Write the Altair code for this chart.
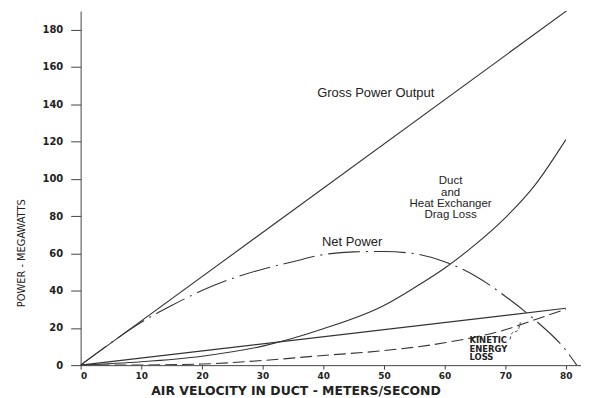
import altair as alt
import pandas as pd

# ---- data ----
gross_v = [0, 80.5]
gross_p = [0, 191]

drag_v = [0, 10, 20, 30, 40, 50, 55, 60, 65, 70, 75, 80]
drag_p = [0, 1.8, 4.8, 10.2, 19.5, 32, 41.5, 52, 64.5, 79, 97, 121]

net_v = [0, 5, 10, 15, 20, 25, 30, 35, 40, 45, 50, 55, 60, 65, 70, 75, 80, 81.8]
net_p = [0, 12, 23, 32, 40, 46.5, 51.5, 55.5, 59.3, 60.8, 61, 59.8, 55.5, 48, 37, 24, 8, 0]

ke_v = [0, 10, 20, 30, 40, 50, 60, 70, 75, 80]
ke_p = [0, 0.1, 0.6, 2.5, 5.2, 7.8, 12, 19, 24.5, 30]

straight_v = [0, 80]
straight_p = [0, 30.5]

leader_v = [70.8, 71.1, 72.1, 72.5]
leader_p = [13.8, 17.1, 18.7, 23]

x_ticks = [0, 10, 20, 30, 40, 50, 60, 70, 80]
y_ticks = [0, 20, 40, 60, 80, 100, 120, 140, 160, 180]

labels_main = ["Gross Power Output", "Net Power"]
labels_main_v = [39.0, 39.8]
labels_main_p = [145.8, 66.0]

duct_lines = ["Duct", "and", "Heat Exchanger", "Drag Loss"]
duct_v = [61, 61, 61, 61]
duct_p = [98.6, 92.5, 86.4, 80.3]

ke_lines = ["KINETIC", "ENERGY", "LOSS"]
ke_lab_v = [64.1, 64.1, 64.1]
ke_lab_p = [13.4, 8.8, 4.2]

# ---- chart ----
xs = alt.Scale(domain=[0, 82.5], nice=False, zero=False)
ys = alt.Scale(domain=[0, 190], nice=False)

LINE = "#333333"

x_axis = alt.Axis(
    values=x_ticks, grid=False, tickSize=4, labelPadding=2, labelOverlap=False,
    labelFont="DejaVu Sans", labelFontWeight="bold", labelFontSize=9,
    labelColor="#222", domainColor="#444", tickColor="#444",
    title="AIR  VELOCITY  IN  DUCT  -  METERS/SECOND",
    titleFont="DejaVu Sans", titleFontWeight="bold", titleFontSize=12.5,
    titleColor="#222", titleX=216, titleY=30, titleAlign="center",
    titleBaseline="alphabetic",
)
y_axis = alt.Axis(
    values=y_ticks, grid=False, tickSize=10, labelPadding=8, labelOverlap=False,
    labelFont="DejaVu Sans", labelFontWeight="bold", labelFontSize=10,
    labelColor="#222", domainColor="#444", tickColor="#444",
    title="POWER - MEGAWATTS",
    titleFont="DejaVu Sans Condensed", titleFontWeight="normal", titleFontSize=11,
    titleColor="#222", titleX=-59, titleY=243, titleAngle=270,
    titleAlign="center", titleBaseline="middle",
)


def series(v, p):
    return pd.DataFrame({"v": v, "p": p})


def enc(chart):
    return chart.encode(
        x=alt.X("v:Q", scale=xs, axis=x_axis),
        y=alt.Y("p:Q", scale=ys, axis=y_axis),
    )


def line_layer(v, p, dash=None, width=1.1, interp="monotone"):
    kw = dict(color=LINE, strokeWidth=width, clip=True, interpolate=interp)
    if dash is not None:
        kw["strokeDash"] = dash
    return enc(alt.Chart(series(v, p)).mark_line(**kw))


gross = line_layer(gross_v, gross_p, interp="linear")
drag = line_layer(drag_v, drag_p)
net = line_layer(net_v, net_p, dash=[32, 6, 2, 6])
ke = line_layer(ke_v, ke_p, dash=[12, 5])
straight = line_layer(straight_v, straight_p, interp="linear")
leader = line_layer(leader_v, leader_p, dash=[3, 2], width=0.9)

main_txt = enc(alt.Chart(pd.DataFrame({"t": labels_main, "v": labels_main_v, "p": labels_main_p})).mark_text(
    font="Liberation Sans", fontSize=13, align="left", baseline="middle", color="#222"
)).encode(text="t:N")

duct_txt = enc(alt.Chart(pd.DataFrame({"t": duct_lines, "v": duct_v, "p": duct_p})).mark_text(
    font="Liberation Sans", fontSize=11.5, align="center", baseline="middle", color="#222"
)).encode(text="t:N")

ke_txt = enc(alt.Chart(pd.DataFrame({"t": ke_lines, "v": ke_lab_v, "p": ke_lab_p})).mark_text(
    font="DejaVu Sans", fontWeight="bold", fontSize=8.5, align="left", baseline="middle", color="#222"
)).encode(text="t:N")

chart = alt.layer(gross, drag, net, ke, straight, leader, main_txt, duct_txt, ke_txt).properties(
    width=503, height=356,
    autosize=alt.AutoSizeParams(type="none"),
    padding={"left": 73, "top": 2, "right": 0, "bottom": 34},
    background="white",
).configure_view(stroke=None)

chart.save("out.html", embed_options={"renderer": "svg", "actions": False})
